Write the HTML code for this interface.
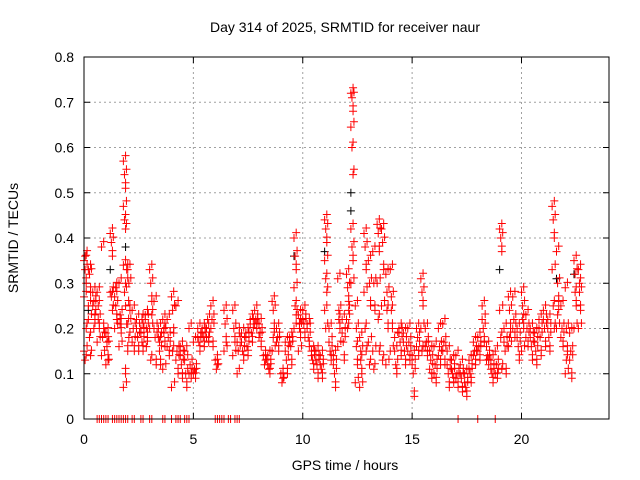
<!DOCTYPE html>
<html><head><meta charset="utf-8"><style>
body{margin:0;background:#fff}
svg{display:block;font-family:"Liberation Sans",sans-serif}
</style></head><body>
<svg id="chart" width="640" height="480" viewBox="0 0 640 480">
<rect width="640" height="480" fill="#fff"/>
<text x="345" y="32" text-anchor="middle" font-size="14">Day 314 of 2025, SRMTID for receiver naur</text>
<text x="0" y="0" transform="translate(18,238) rotate(-90)" text-anchor="middle" font-size="14">SRMTID / TECUs</text>
<text x="345" y="470" text-anchor="middle" font-size="14">GPS time / hours</text>
<g id="grid"></g>
<g id="ticks"></g>
<g id="marks"></g>
<rect x="84" y="57" width="525" height="362" fill="none" stroke="#000" stroke-width="1"/>
</svg>
<script>
const xTicks=[0,5,10,15,20];
const yTicks=[0,0.1,0.2,0.3,0.4,0.5,0.6,0.7,0.8];
const yTickLabels=["0","0.1","0.2","0.3","0.4","0.5","0.6","0.7","0.8"];
const redHours=[0,0.2,0.4,0.6,0.8,1.0,1.2,1.4,1.6,1.8,1.9,2.0,2.2,2.4,2.6,2.8,3.0,3.2,3.4,3.6,3.8,4.0,4.2,4.4,4.6,4.8,5.0,5.2,5.4,5.6,5.8,6.0,6.4,6.8,7.0,7.2,7.4,7.6,7.8,8.0,8.2,8.4,8.6,8.8,9.0,9.2,9.4,9.6,9.8,10.0,10.2,10.4,10.6,10.8,11.0,11.2,11.4,11.6,11.8,12.0,12.2,12.4,12.6,12.8,13.0,13.2,13.4,13.6,13.8,14.0,14.2,14.4,14.6,14.8,15.0,15.2,15.4,15.6,15.8,16.0,16.2,16.4,16.6,16.8,17.0,17.2,17.4,17.6,17.8,18.0,18.2,18.4,18.6,18.8,19.0,19.2,19.4,19.6,19.8,20.0,20.2,20.4,20.6,20.8,21.0,21.2,21.4,21.6,21.8,22.0,22.2,22.4,22.6];
const redValues=[[0.35,0.36,0.3,0.15,0.13,0.2,0.27,0.33],[0.33,0.32,0.28,0.22,0.18,0.14,0.25],[0.28,0.26,0.22,0.25,0.2,0.23],[0.28,0.22,0.2,0.17,0.25],[0.38,0.18,0.2,0.14],[0.19,0.16,0.13,0.12,0.17],[0.41,0.39,0.36,0.28,0.27,0.24],[0.27,0.25,0.22,0.2,0.29],[0.3,0.23,0.19,0.16,0.21],[0.57,0.54,0.51,0.47,0.44,0.42,0.34,0.28,0.1,0.07],[0.3,0.21,0.15,0.25,0.33],[0.33,0.3,0.24,0.21,0.18],[0.24,0.2,0.15,0.17],[0.22,0.18,0.15,0.2],[0.2,0.17,0.15,0.19,0.22],[0.23,0.2,0.18,0.22,0.16],[0.33,0.3,0.26,0.2,0.13,0.23],[0.26,0.18,0.12,0.2],[0.2,0.15,0.12,0.18,0.17],[0.22,0.19,0.16,0.11,0.2],[0.22,0.18,0.14,0.16],[0.27,0.24,0.19,0.07,0.15],[0.25,0.15,0.1,0.13],[0.16,0.12,0.09,0.14],[0.15,0.1,0.07,0.13],[0.2,0.12,0.09,0.1],[0.17,0.11,0.09,0.1],[0.2,0.17,0.15,0.18],[0.2,0.18,0.16,0.19],[0.2,0.22,0.17,0.18],[0.25,0.22,0.16,0.2],[0.13,0.11,0.12],[0.24,0.21,0.17,0.15],[0.24,0.2,0.17,0.14],[0.1,0.15,0.19,0.17],[0.19,0.15,0.13,0.17],[0.19,0.16,0.14,0.18],[0.22,0.19,0.17,0.21],[0.24,0.22,0.2,0.21],[0.21,0.19,0.16,0.18],[0.14,0.12,0.13],[0.14,0.11,0.1,0.12],[0.26,0.24,0.2,0.15,0.18],[0.2,0.18,0.15,0.17],[0.1,0.08,0.09],[0.17,0.13,0.1,0.15],[0.18,0.16,0.12,0.17],[0.4,0.36,0.33,0.29,0.25,0.23,0.2],[0.23,0.2,0.18,0.15,0.21],[0.24,0.21,0.18,0.22],[0.21,0.18,0.16,0.2],[0.15,0.13,0.11,0.14],[0.15,0.12,0.09,0.13],[0.14,0.11,0.09,0.12],[0.44,0.42,0.39,0.35,0.31,0.28,0.24,0.2],[0.2,0.15,0.13,0.17],[0.14,0.1,0.07,0.12],[0.31,0.24,0.2,0.16,0.22],[0.22,0.17,0.13,0.19],[0.32,0.29,0.26,0.22,0.2,0.24],[0.72,0.71,0.68,0.645,0.6,0.54,0.42,0.38,0.35,0.3],[0.25,0.2,0.12,0.08,0.16],[0.18,0.15,0.1,0.07,0.13],[0.41,0.38,0.33,0.28,0.2,0.15],[0.35,0.3,0.25,0.17,0.12],[0.37,0.3,0.24,0.15,0.11],[0.43,0.41,0.37,0.3,0.22,0.15],[0.42,0.39,0.33,0.25,0.13],[0.32,0.28,0.2,0.12,0.24],[0.33,0.27,0.2,0.15,0.24],[0.15,0.12,0.1,0.18],[0.2,0.17,0.14,0.19],[0.19,0.15,0.12,0.17],[0.2,0.17,0.13,0.15],[0.14,0.1,0.05,0.12],[0.2,0.18,0.14,0.16],[0.31,0.28,0.25,0.2,0.15],[0.2,0.17,0.14,0.16],[0.15,0.13,0.09,0.11],[0.16,0.12,0.08,0.1],[0.2,0.16,0.12,0.14],[0.21,0.17,0.12,0.15],[0.15,0.1,0.07,0.12],[0.13,0.1,0.08,0.11],[0.14,0.1,0.07,0.09],[0.12,0.09,0.06,0.1],[0.1,0.07,0.05,0.08],[0.13,0.1,0.08,0.11],[0.17,0.15,0.12,0.14],[0.18,0.16,0.13,0.15],[0.25,0.2,0.17,0.22],[0.16,0.14,0.12,0.13],[0.13,0.1,0.08,0.11],[0.15,0.12,0.09,0.1],[0.42,0.4,0.37,0.24,0.18,0.11],[0.2,0.15,0.1,0.17],[0.27,0.24,0.2,0.16,0.18],[0.27,0.22,0.18,0.2],[0.2,0.16,0.13,0.18],[0.28,0.25,0.2,0.15,0.22],[0.23,0.2,0.16,0.18],[0.2,0.16,0.13,0.18],[0.19,0.15,0.12,0.17],[0.22,0.18,0.14,0.2],[0.24,0.2,0.16,0.22],[0.22,0.18,0.15,0.2],[0.47,0.44,0.4,0.33,0.25,0.2],[0.37,0.3,0.26,0.2,0.23],[0.25,0.2,0.16,0.18],[0.29,0.2,0.15,0.1,0.13],[0.19,0.15,0.09,0.13],[0.35,0.32,0.25,0.2,0.28],[0.33,0.28,0.24,0.2,0.3]];
const zeroHours=[0.6,0.7,0.8,0.9,1.0,1.1,1.3,1.4,1.5,1.6,1.7,1.8,1.9,2.0,2.2,2.3,2.6,2.7,3.0,3.1,3.6,3.7,4.0,4.2,4.3,4.4,4.6,4.7,4.8,6.0,6.1,6.2,6.3,6.4,6.6,6.7,6.9,7.0,7.1,17.1,18.0,18.8];
const blackHours=[0.2,1.2,1.9,9.6,11.0,12.2,12.2,19.0,21.6,22.4];
const blackValues=[0.24,0.33,0.38,0.36,0.37,0.5,0.46,0.33,0.31,0.32];
const X0=84,X1=609,Y0=419,Y1=57,XMAX=24,YMAX=0.8;
const sx=h=>X0+(X1-X0)*h/XMAX;
const sy=v=>Y0-(Y0-Y1)*v/YMAX;
const NS="http://www.w3.org/2000/svg";
const grid=document.getElementById('grid'),ticks=document.getElementById('ticks'),marks=document.getElementById('marks');
function ln(p,x1,y1,x2,y2,st,dash){const l=document.createElementNS(NS,'line');l.setAttribute('x1',x1);l.setAttribute('y1',y1);l.setAttribute('x2',x2);l.setAttribute('y2',y2);l.setAttribute('stroke',st);if(dash)l.setAttribute('stroke-dasharray',dash);p.appendChild(l);return l;}
function tx(x,y,s,anchor){const t=document.createElementNS(NS,'text');t.setAttribute('x',x);t.setAttribute('y',y);t.setAttribute('font-size','14');t.setAttribute('text-anchor',anchor);t.textContent=s;ticks.appendChild(t);return t;}
xTicks.forEach(h=>{const x=sx(h);
 if(h>0){const g=ln(grid,x,Y1,x,Y0,'#a0a0a0','2,3');
 
 }
 ln(ticks,x,Y0,x,Y0-6,'#000');ln(ticks,x,Y1,x,Y1+6,'#000');
 const t=tx(x,444,String(h),'middle');
 
 });
yTicks.forEach((v,i)=>{const y=sy(v);
 if(v>0&&v<0.8){const g=ln(grid,X0,y,X1,y,'#a0a0a0','2,3');
 
 }
 ln(ticks,X0,y,X0+6,y,'#000');ln(ticks,X1,y,X1-6,y,'#000');
 const t=tx(74,y+5,yTickLabels[i],'end');
 
 });
function cross(h,v,col,name){const x=sx(h),y=sy(v);const p=document.createElementNS(NS,'path');
 p.setAttribute('d',`M${x-4},${y}H${x+4}M${x},${y-4}V${y+4}`);p.setAttribute('stroke',col);p.setAttribute('fill','none');
 
 
 marks.appendChild(p);}
blackHours.forEach((h,i)=>cross(h,blackValues[i],'#000','black-point'));
redHours.forEach((h,i)=>redValues[i].forEach((v,j)=>{
 cross(h+(j%3)*0.05,v,'#f00','red-point');
 cross(h+0.1+(j%2)*0.04,v+0.012,'#f00','red-point');
}));
zeroHours.forEach(h=>cross(h,0,'#f00','zero-point'));
</script>
</body></html>
